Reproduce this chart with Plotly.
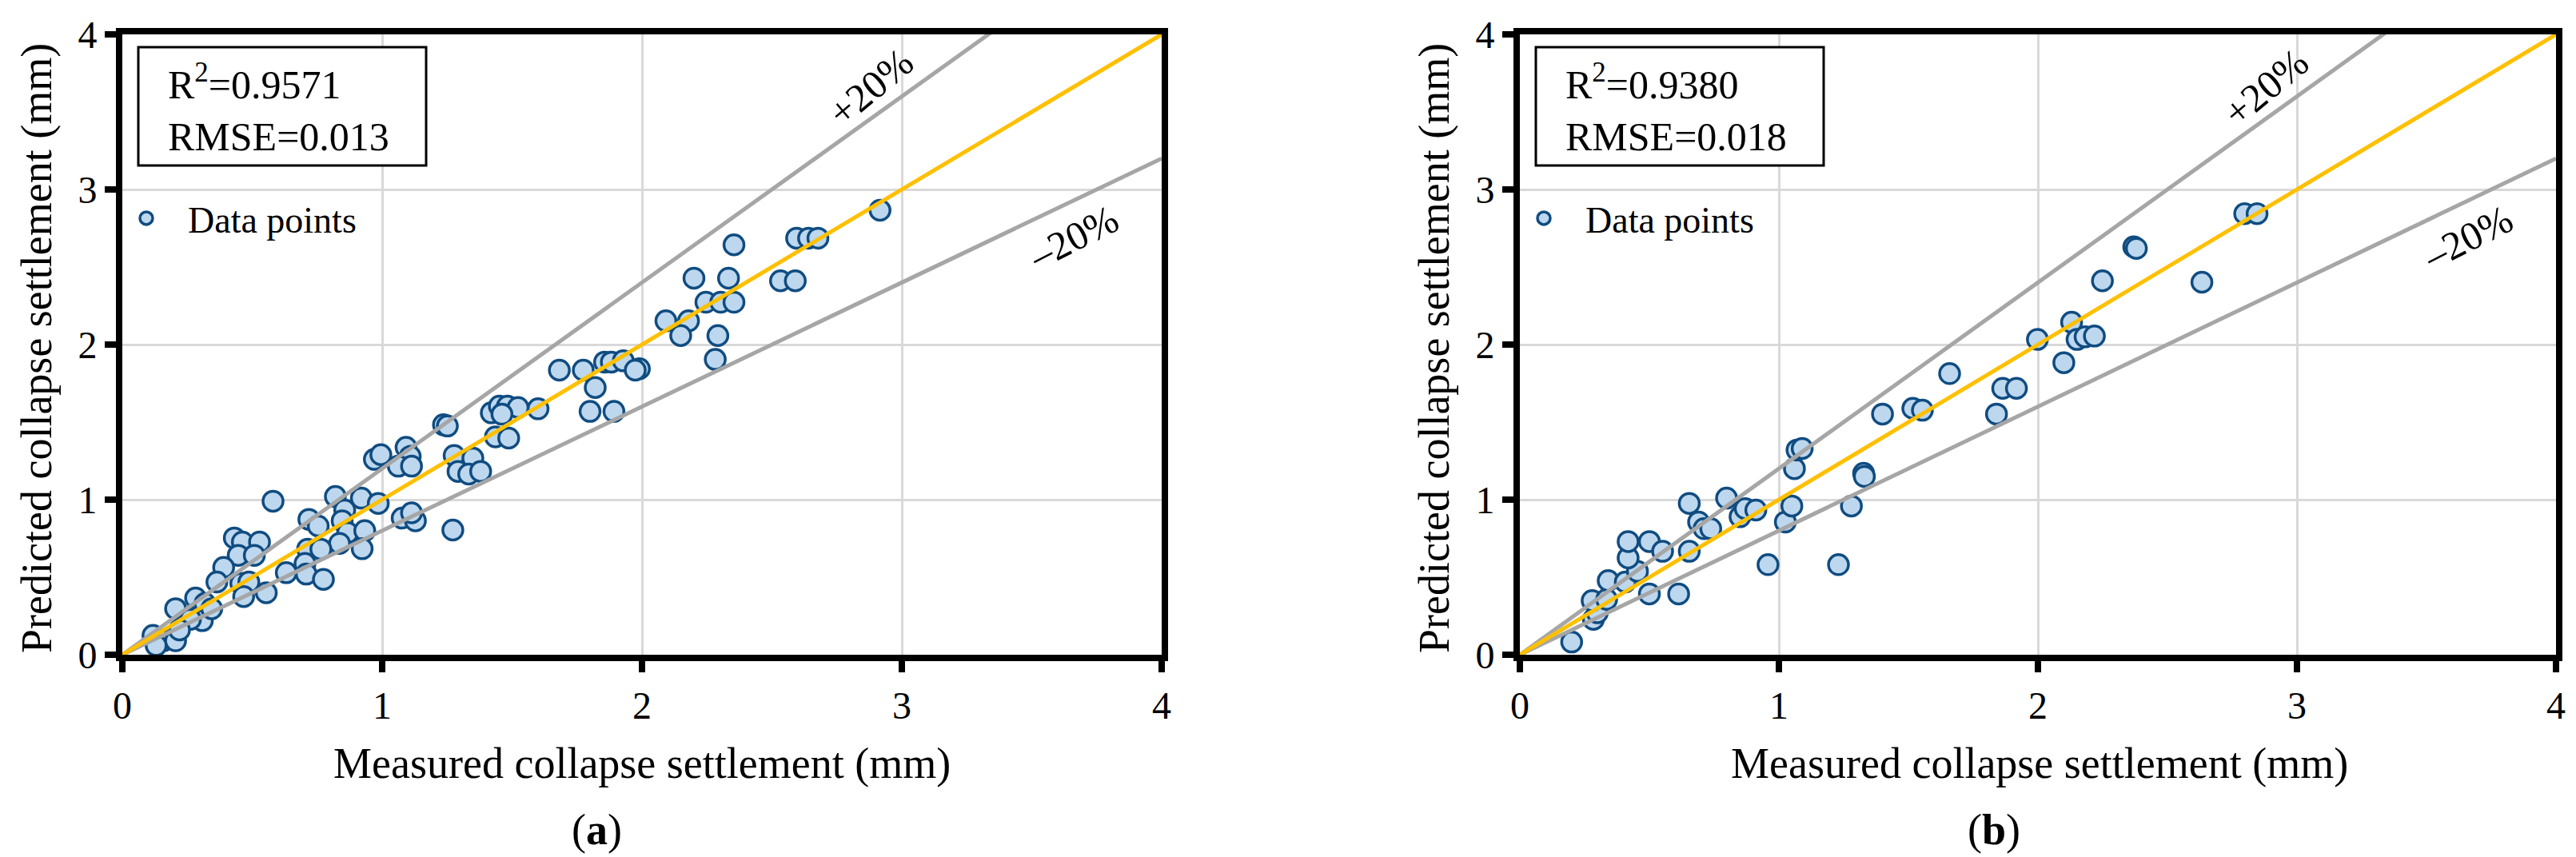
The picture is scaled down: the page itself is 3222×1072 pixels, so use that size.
import plotly.graph_objects as go

# measured vs predicted collapse settlement (mm)
meas_a = [0.58, 0.97, 0.995, 0.82, 0.92, 0.985, 0.856, 0.718, 0.754, 0.846,
          0.867, 0.933, 0.836, 0.923, 0.713, 0.764, 0.703, 0.631, 0.708, 0.774,
          0.431, 0.462, 0.528, 0.446, 0.508, 0.39, 0.364, 0.456, 0.487, 0.467,
          0.554, 0.205, 0.282, 0.318, 0.308, 0.262, 0.344, 0.118, 0.159, 0.205,
          0.22, 0.13,
          2.092, 2.179, 2.149, 2.292, 2.282, 1.682, 1.774, 1.856, 1.882, 1.928,
          1.99, 1.974, 1.82, 1.80, 1.892, 1.60, 1.42, 1.451, 1.482, 1.523,
          1.461, 1.436, 1.487, 1.236, 1.251, 1.092, 1.108, 1.062, 1.113, 1.277,
          1.349, 1.292, 1.333, 1.379, 1.077, 1.128, 1.113, 1.272,
          2.916, 2.595, 2.641, 2.677, 2.354, 2.20, 2.333, 2.533, 2.59, 2.246,
          2.303, 2.354]
pred_a = [0.99, 1.26, 1.29, 1.02, 1.01, 0.976, 0.933, 0.873, 0.83, 0.864,
          0.787, 0.80, 0.718, 0.684, 0.681, 0.681, 0.589, 0.529, 0.52, 0.486,
          0.753, 0.727, 0.727, 0.641, 0.641, 0.563, 0.469, 0.46, 0.469, 0.375,
          0.40, 0.297, 0.366, 0.331, 0.22, 0.228, 0.297, 0.125, 0.09, 0.09,
          0.16, 0.06,
          2.153, 2.153, 2.058, 2.058, 1.904, 1.835, 1.835, 1.887, 1.887, 1.895,
          1.844, 1.835, 1.723, 1.569, 1.569, 1.586, 1.56, 1.603, 1.603, 1.594,
          1.551, 1.405, 1.397, 1.483, 1.475, 1.337, 1.279, 1.216, 1.216, 1.285,
          1.268, 1.182, 1.165, 1.182, 0.881, 0.864, 0.915, 0.804,
          2.866, 2.686, 2.686, 2.686, 2.643, 2.428, 2.428, 2.411, 2.411, 2.273,
          2.273, 2.273]

meas_b = [0.20, 0.284, 0.299, 0.279, 0.335, 0.341, 0.407, 0.454, 0.418, 0.418,
          0.50, 0.551, 0.50, 0.613, 0.654, 0.654, 0.69, 0.711, 0.737, 0.798,
          0.85, 0.87, 0.911, 0.958, 1.025, 1.05, 1.06, 1.07, 1.09, 1.23,
          1.28, 1.327, 1.33, 1.40, 1.517, 1.554, 1.659, 1.84, 1.864, 1.917,
          1.998, 2.10, 2.13, 2.151, 2.182, 2.218, 2.249, 2.37, 2.38, 2.633,
          2.798, 2.846]
pred_b = [0.082, 0.228, 0.271, 0.349, 0.357, 0.478, 0.469, 0.538, 0.624, 0.730,
          0.730, 0.667, 0.392, 0.392, 0.667, 0.976, 0.856, 0.813, 0.813, 1.01,
          0.89, 0.942, 0.933, 0.581, 0.856, 0.959, 1.20, 1.32, 1.33, 0.581,
          0.959, 1.17, 1.15, 1.552, 1.589, 1.577, 1.813, 1.552, 1.718, 1.718,
          2.033, 1.883, 2.144, 2.033, 2.05, 2.055, 2.411, 2.63, 2.62, 2.402,
          2.844, 2.844]

stats_a = ["R<sup>2</sup>=0.9571", "RMSE=0.013"]
stats_b = ["R<sup>2</sup>=0.9380", "RMSE=0.018"]

ref_x = [0, 4]          # reference lines span the axis range
band = 0.2              # +/-20% band

W, H = 3222, 1072
FONT = "Liberation Serif"


def px(x):
    return x / W


def py(y):
    return 1 - y / H


fig = go.Figure()

panels = [
    ("x", "y", "legend", meas_a, pred_a, stats_a, 145, "a"),
    ("x2", "y2", "legend2", meas_b, pred_b, stats_b, 1893, "b"),
]

for xa, ya, leg, mx, my, stats, left, tag in panels:
    fig.add_trace(go.Scatter(
        x=mx, y=my, mode="markers", name="Data points",
        xaxis=xa, yaxis=ya, legend=leg,
        marker=dict(size=25, color="#BDD7EE",
                    line=dict(color="#0F4C81", width=3.5)),
    ))
    for f, col in [(1 + band, "#A6A6A6"), (1 - band, "#A6A6A6"), (1, "#FFC000")]:
        fig.add_trace(go.Scatter(
            x=ref_x, y=[v * f for v in ref_x], mode="lines",
            xaxis=xa, yaxis=ya, showlegend=False, hoverinfo="skip",
            line=dict(color=col, width=5),
        ))

    # statistics box
    fig.add_shape(type="rect", xref="paper", yref="paper",
                  x0=px(left + 20), x1=px(left + 380),
                  y0=py(199), y1=py(51),
                  line=dict(color="black", width=3), fillcolor="white",
                  layer="above")
    fig.add_annotation(xref="paper", yref="paper", x=px(left + 55), y=py(127),
                       xanchor="left", yanchor="middle", align="left",
                       text="<br>".join(stats), showarrow=False,
                       font=dict(family=FONT, size=50, color="black"))

    # band labels
    fig.add_annotation(xref=xa, yref=ya, x=2.88, y=3.66, text="+20%",
                       showarrow=False, textangle=-40,
                       xanchor="center", yanchor="middle",
                       font=dict(family=FONT, size=50, color="black"))
    fig.add_annotation(xref=xa, yref=ya, x=3.66, y=2.69, text="\u201320%",
                       showarrow=False, textangle=-27,
                       xanchor="center", yanchor="middle",
                       font=dict(family=FONT, size=50, color="black"))

    # axis titles and panel caption
    fig.add_annotation(xref="paper", yref="paper", x=px(left + 650), y=py(947),
                       xanchor="center", yanchor="middle",
                       text="Measured collapse settlement (mm)", showarrow=False,
                       font=dict(family=FONT, size=54, color="black"))
    fig.add_annotation(xref="paper", yref="paper", x=px(left - 107), y=py(428),
                       xanchor="center", yanchor="middle",
                       text="Predicted collapse settlement (mm)", showarrow=False,
                       textangle=-90,
                       font=dict(family=FONT, size=54, color="black"))
    fig.add_annotation(xref="paper", yref="paper", x=px(left + 593), y=py(1030),
                       xanchor="center", yanchor="middle",
                       text="(<b>%s</b>)" % tag, showarrow=False,
                       font=dict(family=FONT, size=54, color="black"))

axis_style = dict(
    range=[0, 4], dtick=1, showgrid=True, gridcolor="#D9D9D9", gridwidth=3,
    zeroline=False, showline=True, linecolor="black", linewidth=8, mirror=True,
    ticks="outside", ticklen=14, tickwidth=8, tickcolor="black",
    automargin=False,
    tickfont=dict(family=FONT, size=48, color="black"),
)

legend_style = dict(
    xanchor="left", yanchor="middle", bgcolor="rgba(0,0,0,0)",
    font=dict(family=FONT, size=46, color="black"), itemwidth=94,
)

fig.update_layout(
    width=W, height=H,
    margin=dict(l=0, r=0, t=0, b=0, pad=0, autoexpand=False),
    paper_bgcolor="white", plot_bgcolor="white",
    xaxis=dict(domain=[px(145), px(1445)], anchor="y", **axis_style),
    yaxis=dict(domain=[py(811), py(35)], anchor="x", **axis_style),
    xaxis2=dict(domain=[px(1893), px(3189)], anchor="y2", **axis_style),
    yaxis2=dict(domain=[py(811), py(35)], anchor="x2", **axis_style),
    legend=dict(x=px(123), y=py(265), **legend_style),
    legend2=dict(x=px(1871), y=py(265), **legend_style),
)

fig.write_html("out.html")
